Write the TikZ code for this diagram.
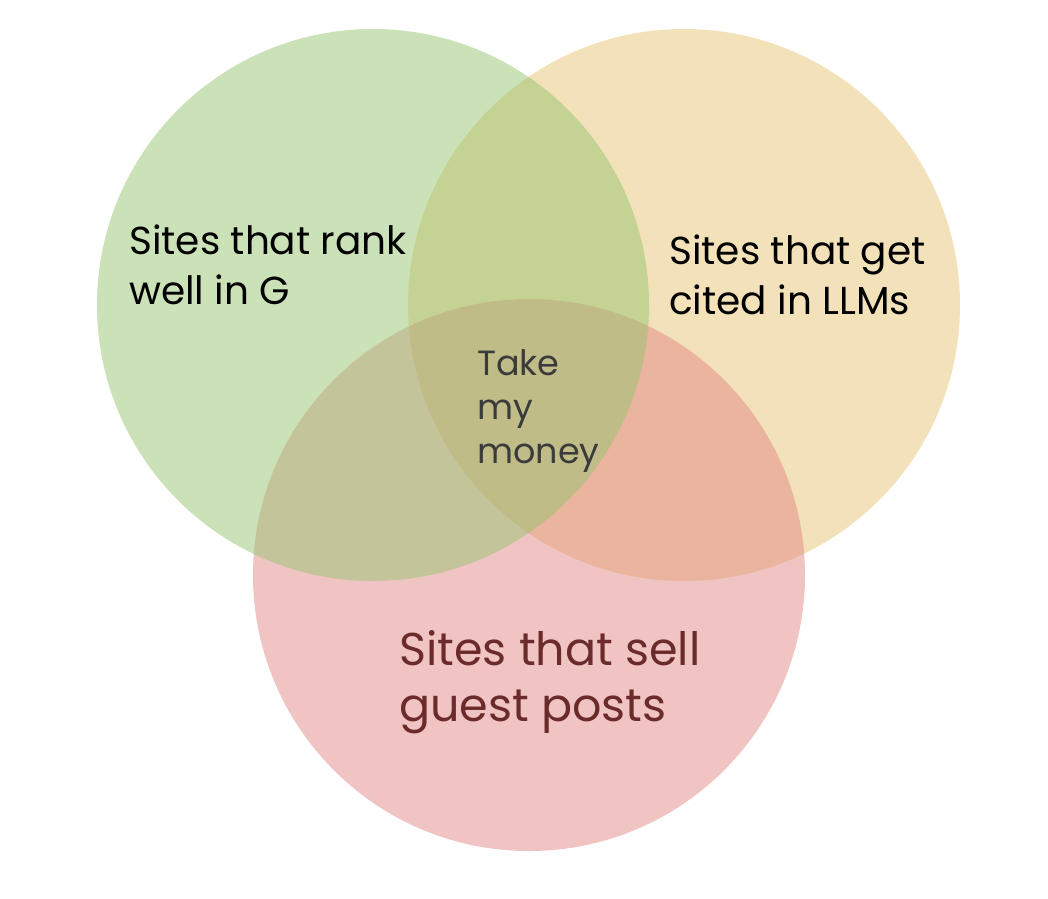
\documentclass[tikz,border=0pt]{standalone}
\usepackage{fontspec}
\setmainfont{Poppins}
\usepackage{tikz}
\usetikzlibrary{positioning}

\definecolor{rankgreen}{RGB}{151,197,113}
\definecolor{citeyellow}{RGB}{231,195,115}
\definecolor{sellred}{RGB}{225,137,133}
\definecolor{sellText}{RGB}{107,43,43}
\definecolor{moneyText}{RGB}{59,59,59}

\begin{document}
\begin{tikzpicture}[
    x=1pt, y=-1pt,
    venn/.style={circle, minimum size=552pt, inner sep=0pt, fill opacity=0.5, draw=none},
    setlabel/.style={anchor=base west, align=left, inner sep=0pt, font=\fontsize{39}{50}\selectfont},
]
\useasboundingbox (0,0) rectangle (1048,898);
\node[venn, fill=citeyellow] (llms) at (684,305) {};
\node[venn, fill=sellred] (posts) at (529,575) {};
\node[venn, fill=rankgreen] (google) at (373,305) {};
% base anchor sits on the last line
\node[setlabel] (googletext) at (129,304) {Sites that rank\\well in G};
\node[setlabel] (llmstext) at (669,314) {Sites that get\\cited in LLMs};
\node[setlabel, text=sellText, font=\fontsize{46}{56}\selectfont] (poststext) at (399,721) {Sites that sell\\guest posts};
\node[setlabel, text=moneyText, font=\fontsize{35}{44}\selectfont] (money) at (477,463) {Take\\my\\money};
\end{tikzpicture}
\end{document}
